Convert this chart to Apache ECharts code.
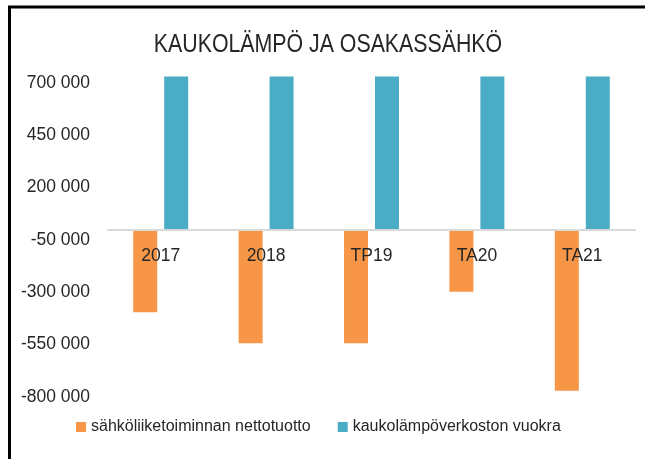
<!DOCTYPE html>
<html>
<head>
<meta charset="utf-8">
<script src="https://cdn.jsdelivr.net/npm/echarts@6/dist/echarts.min.js"></script>
<style>
  html, body { margin: 0; padding: 0; background: #fff; }
  #box { width: 645px; height: 459px; }
</style>
</head>
<body>
<div id="box"></div>
<script>
// data
var categories = ['2017', '2018', 'TP19', 'TA20', 'TA21']
var seriesNames = ['sähköliiketoiminnan nettotuotto', 'kaukolämpöverkoston vuokra']
var nettotuotto = [-395000, -543000, -543000, -298000, -770000]
var vuokra = [730000, 730000, 730000, 730000, 730000]
var yMin = -800000
var yMax = 700000
var yStep = 250000
var titleText = 'KAUKOLÄMPÖ JA OSAKASSÄHKÖ'

var font = '"Liberation Sans", Arial, sans-serif'
var textColor = '#262626'

function fmt(v) {
    var s = String(Math.abs(v)).replace(/\B(?=(\d{3})+(?!\d))/g, ' ')
    return (v < 0 ? '-' : '') + s
}

var Chart = echarts.init(document.getElementById('box'))
var option = {
    animation: false,
    backgroundColor: '#fff',
    legend: {
        left: 71,
        top: 414,
        width: 600,
        itemWidth: 10,
        itemHeight: 10,
        itemGap: 27,
        icon: 'rect',
        textStyle: { fontFamily: font, fontSize: 16, color: textColor },
        data: seriesNames
    },
    grid: { left: 108, right: 10, top: 82.7, height: 314.3, containLabel: false },
    xAxis: {
        type: 'category',
        data: categories,
        z: 5,
        axisLine: { onZero: true, lineStyle: { color: '#d9d9d9', width: 2 } },
        axisTick: { show: false },
        // labels sit just under the zero line, over the bars, like in the picture
        axisLabel: { fontFamily: font, fontSize: 17.5, color: textColor, margin: -150 }
    },
    yAxis: {
        type: 'value',
        min: yMin,
        max: yMax,
        interval: yStep,
        splitLine: { show: false },
        axisLine: { show: false },
        axisTick: { show: false },
        axisLabel: { fontFamily: font, fontSize: 17.5, color: textColor, margin: 18, formatter: fmt }
    },
    series: [
        {
            name: seriesNames[0],
            type: 'bar',
            barWidth: 24,
            barGap: '29%',
            clip: false,
            itemStyle: { color: '#F79646' },
            data: nettotuotto
        },
        {
            name: seriesNames[1],
            type: 'bar',
            barWidth: 24,
            barGap: '29%',
            clip: false,
            itemStyle: { color: '#4BACC6' },
            data: vuokra
        }
    ],
    graphic: [
        {
            type: 'text',
            x: 328,
            y: 45,
            scaleX: 0.82,
            style: {
                text: titleText,
                fontFamily: font,
                fontSize: 26,
                fill: textColor,
                textAlign: 'center',
                textVerticalAlign: 'middle'
            }
        },
        { type: 'line', shape: { x1: 9.5, y1: 7, x2: 9.5, y2: 459 }, style: { stroke: '#000', lineWidth: 3 } },
        { type: 'line', shape: { x1: 8, y1: 7, x2: 645, y2: 7 }, style: { stroke: '#000', lineWidth: 3 } }
    ]
}
Chart.setOption(option)
</script>
</body>
</html>
